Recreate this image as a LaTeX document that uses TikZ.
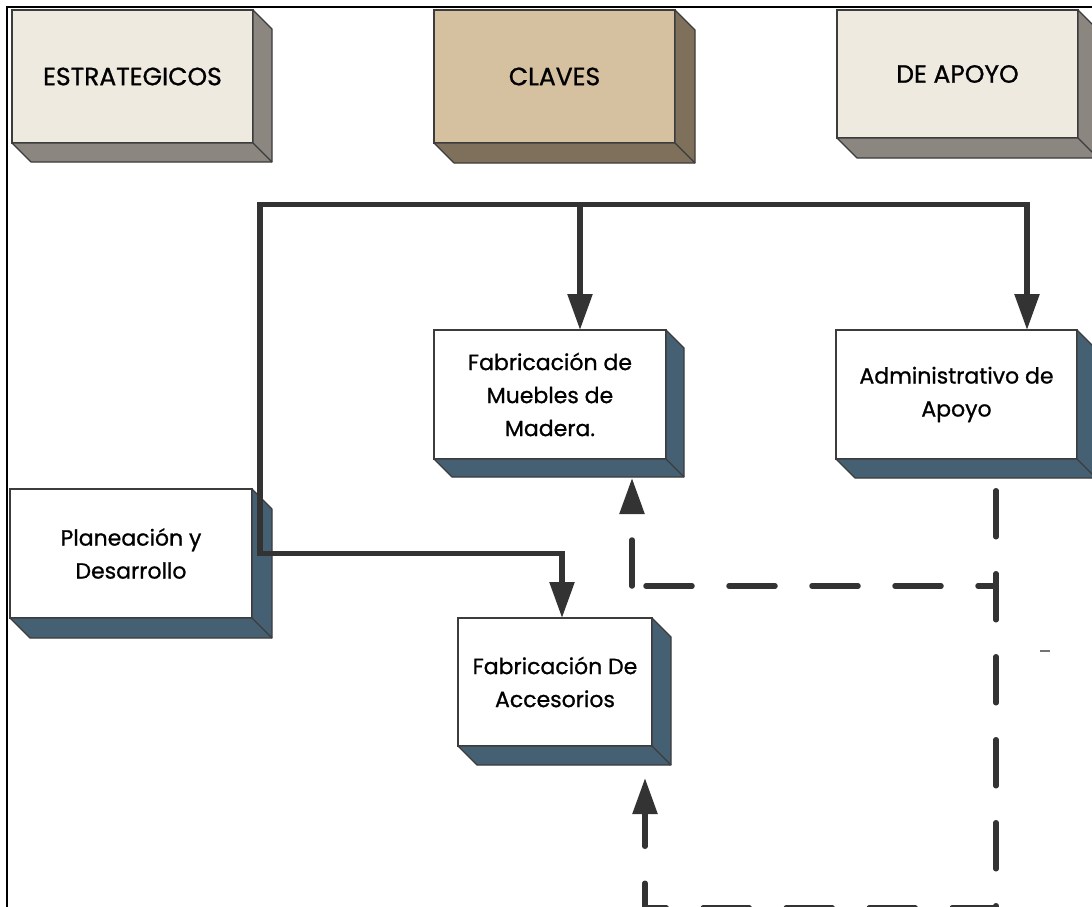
\documentclass[tikz,border=0pt]{standalone}
\usepackage{fontspec}
\setmainfont{Poppins}
\newfontfamily\boxfont{Poppins}[FakeBold=0.9]
\usetikzlibrary{arrows.meta,calc}

\definecolor{ink}{HTML}{333333}
\definecolor{edge}{HTML}{3C3C3C}
\definecolor{paper}{HTML}{EFEAE0}
\definecolor{stone}{HTML}{8B8680}
\definecolor{sand}{HTML}{D5C09F}
\definecolor{umber}{HTML}{7E705B}
\definecolor{slate}{HTML}{456073}

\tikzset{
  face/.style={draw=edge, line width=1.2pt, inner sep=0pt, outer sep=0pt,
    anchor=north west, align=center, text=black,
    font=\boxfont\fontsize{22}{33}\selectfont},
  head/.style={font=\boxfont\fontsize{25}{28}\selectfont},
  side/.style={draw=edge, line width=1.2pt, line join=round},
  flow/.style={draw=ink, line width=5.5pt},
  tip/.style={-{Triangle[length=36pt,width=24pt]}},
  twotip/.style={{Triangle[length=36pt,width=24pt]}-{Triangle[length=36pt,width=24pt]}},
  dashflow/.style={flow, dash pattern=on 46pt off 37pt, line cap=round},
}

% extruded box: name, NW corner, width, height, depth, front fill, side fill, label, extra style
\newcommand\slab[9]{%
  \node[face, #9, fill=#6, minimum width=#3pt, minimum height=#4pt] (#1) at (#2) {#8};
  \filldraw[side, fill=#7] (#1.north east) -- ++(#5,#5)
    -- ($(#1.south east)+(#5,#5)$) -- ($(#1.south west)+(#5,#5)$)
    -- (#1.south west) -- (#1.south east) -- cycle;
  \draw[side] (#1.south east) -- ++(#5,#5);
}

\begin{document}
\begin{tikzpicture}[x=1pt, y=-1pt]
  \useasboundingbox (0,0) rectangle (1092,907);
  \clip (0,0) rectangle (1092,907);
  \fill[white] (0,0) rectangle (1092,907);

  % page frame
  \draw[black, line width=2pt] (7,910) -- (7,7) -- (1095,7);

  % category headers
  \slab{est}{12,10}{241}{133}{19}{paper}{stone}{ESTRATEGICOS}{head}
  \slab{cla}{434,10}{241}{133}{20}{sand}{umber}{CLAVES}{head}
  \slab{apo}{837,10}{241}{128}{20}{paper}{stone}{DE APOYO}{head}

  % processes
  \slab{mue}{434,330}{232}{129}{18}{white}{slate}{Fabricación de\\Muebles de\\Madera.}{}
  \slab{adm}{836,330}{241}{129}{19}{white}{slate}{Administrativo de\\Apoyo}{}
  \slab{pla}{10,489}{242}{129}{20}{white}{slate}{Planeación y\\Desarrollo}{}
  \slab{acc}{458,618}{194}{128}{19}{white}{slate}{Fabricación De\\Accesorios}{}

  % solid flow from planning
  \coordinate (src) at ($(pla.east)+(8,0)$);
  \coordinate (top) at ($(src)+(0,-349)$);
  \coordinate (mueIn) at ($(mue.north)+(30,0)$);
  \coordinate (admIn) at ($(adm.north)+(70.5,0)$);
  \coordinate (accIn) at ($(acc.north)+(7,0)$);
  \draw[flow, twotip] (accIn) |- (src) -- (top) -| (admIn);
  \draw[flow, tip] (top -| mueIn) -- (mueIn);

  % dashed return flow from support
  \coordinate (admOut) at ($(adm.south)+(39.5,31.75)$);
  \coordinate (split) at (admOut |- 0,586);
  \coordinate (bend) at ($(mue.south)+(82,127)$);
  \coordinate (mueBack) at ($(mue.south)+(82,19)$);
  \coordinate (accBack) at ($(acc.south)+(90,32)$);
  \coordinate (lowR) at (admOut |- 0,908);
  \coordinate (lowL) at (accBack |- 0,908);
  \draw[dashflow, tip] (admOut) -- (lowR) -- (lowL) -- (accBack);
  \draw[dashflow, dash phase=28pt] (split) -- (bend -| 640,0);
  \draw[dashflow, tip] (bend) -- (mueBack);

  % stray mark
  \draw[black!55, line width=1.5pt] (1040,651) -- (1050,651);
\end{tikzpicture}
\end{document}
